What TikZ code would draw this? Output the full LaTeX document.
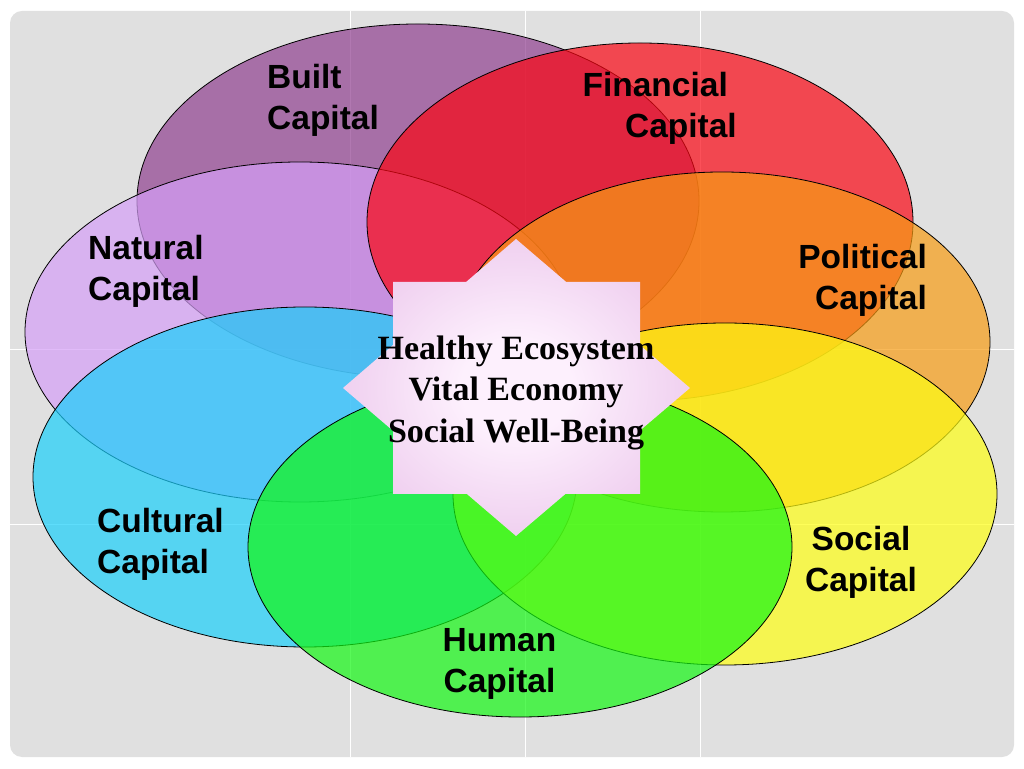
\documentclass[tikz,border=0pt]{standalone}
\usepackage{fontspec}
\setmainfont{Liberation Serif}
\newfontfamily\labelfont{Liberation Sans}
\usepackage{tikz}

\definecolor{bgray}{RGB}{224,224,224}
\definecolor{builtc}{RGB}{144,64,144}
\definecolor{naturalc}{RGB}{213,159,247}
\definecolor{financec}{RGB}{250,7,19}
\definecolor{politicalc}{RGB}{247,156,19}
\definecolor{culturalc}{RGB}{26,207,250}
\definecolor{socialc}{RGB}{254,254,19}
\definecolor{humanc}{RGB}{19,247,19}
\definecolor{starin}{RGB}{253,240,253}
\definecolor{starout}{RGB}{228,180,228}

\pgfdeclareradialshading{starglow}{\pgfpoint{0bp}{0bp}}{color(0bp)=(starin); color(8bp)=(starin); color(40bp)=(starout); color(50bp)=(starout)}

\begin{document}
\begin{tikzpicture}[x=1pt,y=1pt,
  ring/.style={draw=black, line width=0.8pt, fill opacity=0.7},
  lbl/.style={font=\labelfont\bfseries\fontsize{33.5}{41}\selectfont, inner sep=0pt}]
\useasboundingbox (0,0) rectangle (1024,768);

% Background and grid
\fill[white] (0,0) rectangle (1024,768);
\fill[bgray, rounded corners=12pt] (10,11) rectangle (1014,757);
\draw[white, line width=1pt] (350,11) -- (350,757);
\draw[white, line width=1pt] (525,11) -- (525,757);
\draw[white, line width=1pt] (700,11) -- (700,757);
\draw[white, line width=1pt] (10,418) -- (1014,418);
\draw[white, line width=1pt] (10,243) -- (1014,243);

% Capital ellipses
\draw[ring, fill=builtc] (418,567) ellipse (281pt and 177pt);
\draw[ring, fill=naturalc] (300,436) ellipse (275pt and 170pt);
\draw[ring, fill=financec] (640,546) ellipse (273pt and 179pt);
\draw[ring, fill=politicalc] (722,426) ellipse (268pt and 170pt);
\draw[ring, fill=culturalc] (305,291) ellipse (272pt and 170pt);
\draw[ring, fill=socialc] (725,274) ellipse (272pt and 171pt);
\draw[ring, fill=humanc] (520,221) ellipse (272pt and 170pt);

% Star in the middle
\shade[shading=starglow] (393,274) -- (640,274) -- (640,486) -- (393,486) -- cycle
  (516,232) -- (690,380) -- (516,529) -- (343,380) -- cycle;
\node[font=\bfseries\fontsize{34}{41.5}\selectfont, align=center, inner sep=0pt] (core) at (516,375.5)
  {Healthy Ecosystem\\Vital Economy\\Social Well-Being};

% Labels
\node[lbl, anchor=west, align=left] (built) at (267,667.5) {Built\\Capital};
\node[lbl, anchor=east, align=right] (financial) at (737,659.5) {Financial\hspace*{9pt}\\Capital};
\node[lbl, anchor=west, align=left] (natural) at (88,497) {Natural\\Capital};
\node[lbl, anchor=east, align=right] (political) at (927,487.5) {Political\\Capital};
\node[lbl, anchor=west, align=left] (cultural) at (97,223.5) {Cultural\\Capital};
\node[lbl, align=center] (social) at (861,206) {Social\\Capital};
\node[lbl, align=center] (human) at (499.5,104.5) {Human\\Capital};
\end{tikzpicture}
\end{document}
